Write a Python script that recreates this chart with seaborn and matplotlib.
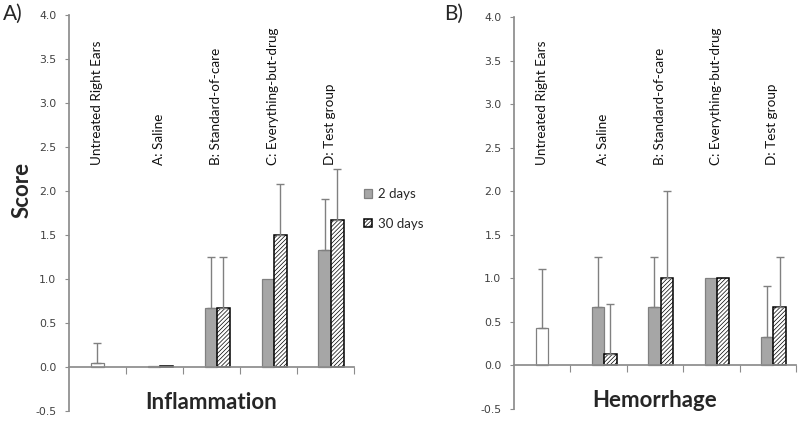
import numpy as np
import pandas as pd
import matplotlib
matplotlib.use("Agg")
import matplotlib.pyplot as plt
import seaborn as sns

groups = ["Untreated Right Ears", "A: Saline", "B: Standard-of-care",
          "C: Everything-but-drug", "D: Test group"]
times = ["2 days", "30 days"]

# inflammation scores (bars) and upper error lengths
infl_untreated = 0.05
infl_untreated_err = 0.22
infl_2d = [0.01, 0.67, 1.00, 1.33]
infl_2d_err = [0, 0.58, 0, 0.58]
infl_30d = [0.01, 0.67, 1.50, 1.67]
infl_30d_err = [0, 0.58, 0.58, 0.58]

# hemorrhage scores
hem_untreated = 0.43
hem_untreated_err = 0.68
hem_2d = [0.67, 0.67, 1.00, 0.33]
hem_2d_err = [0.58, 0.58, 0, 0.58]
hem_30d = [0.13, 1.00, 1.00, 0.67]
hem_30d_err = [0.58, 1.00, 0, 0.58]

sns.set_theme(style="white")
plt.rcParams["font.family"] = ["Lato", "DejaVu Sans"]
plt.rcParams["hatch.linewidth"] = 0.5

GRAY = "#a6a6a6"
EDGE = "#808080"
AXC = "#8c8c8c"


def draw_panel(ax, untreated, untreated_err, v2, e2, v30, e30, title):
    df = pd.DataFrame({
        "group": groups[1:] * 2,
        "time": [times[0]] * 4 + [times[1]] * 4,
        "score": v2 + v30,
    })
    sns.barplot(x=[groups[0]], y=[untreated], order=groups, width=0.22,
                color="white", edgecolor=EDGE, linewidth=0.9,
                errorbar=None, ax=ax)
    sns.barplot(data=df, x="group", y="score", hue="time", order=groups,
                hue_order=times, width=0.44, palette=[GRAY, "white"],
                saturation=1, linewidth=0.9, errorbar=None, legend=False, ax=ax)

    c_un, c2, c30 = ax.containers[0], ax.containers[1], ax.containers[2]
    for bar in c2:
        bar.set_edgecolor(EDGE)
        bar.set_x(bar.get_x() + 0.1)
    for bar in c30:
        bar.set_edgecolor("black")
        bar.set_hatch("////////")
        bar.set_linewidth(1.1)
        bar.set_x(bar.get_x() + 0.1)

    for cont, errs in [(c_un, [untreated_err]), (c2, e2), (c30, e30)]:
        for bar, err in zip(cont, errs):
            if err > 0:
                ax.errorbar(bar.get_x() + bar.get_width() / 2, bar.get_height(),
                            yerr=[[0], [err]], fmt="none", ecolor=EDGE,
                            elinewidth=1, capsize=3, capthick=1)

    for i, g in enumerate(groups):
        ax.text(i + (0.08 if i else 0), 2.3, g, rotation=90, ha="center",
                va="bottom", fontsize=9.7, color="#111111")

    ax.text(2, -0.4, title, ha="center", va="center", fontsize=16,
            fontweight="bold")

    ax.set_xlim(-0.5, 4.5)
    ax.set_ylim(-0.5, 4.0)
    ax.set_yticks(np.arange(-0.5, 4.01, 0.5))
    ax.set_yticklabels([f"{v:.1f}" for v in np.arange(-0.5, 4.01, 0.5)],
                       family="DejaVu Sans")
    ax.set_xticks(np.arange(5) + 0.5)
    ax.set_xticklabels([])
    ax.set_xlabel("")
    ax.set_ylabel("")
    for s in ["top", "right"]:
        ax.spines[s].set_visible(False)
    ax.spines["bottom"].set_position(("data", 0))
    ax.spines["bottom"].set_color(AXC)
    ax.spines["left"].set_color(AXC)
    ax.tick_params(axis="x", direction="out", length=5, width=0.8,
                   color=AXC, bottom=True)
    ax.tick_params(axis="y", direction="out", length=3, width=0.8,
                   color=AXC, left=True, labelsize=7.8, labelcolor="#404040",
                   pad=6)
    return c2, c30


fig = plt.figure(figsize=(8, 4.21), dpi=100)
ax1 = fig.add_axes([0.08625, 0.0238, 0.356, 0.9406])
ax2 = fig.add_axes([0.6425, 0.0285, 0.3525, 0.9311])

c2, c30 = draw_panel(ax1, infl_untreated, infl_untreated_err, infl_2d,
                     infl_2d_err, infl_30d, infl_30d_err, "Inflammation")
draw_panel(ax2, hem_untreated, hem_untreated_err, hem_2d, hem_2d_err,
           hem_30d, hem_30d_err, "Hemorrhage")

fig.text(0.028, 1 - 190 / 421, "Score", rotation=90, ha="center",
         va="center", fontsize=16, fontweight="bold")
fig.text(0.004, 0.99, "A)", ha="left", va="top", fontsize=15)
fig.text(0.555, 0.99, "B)", ha="left", va="top", fontsize=15)

fig.legend([c2[1], c30[1]], times, loc="center left",
           bbox_to_anchor=(352 / 800, 1 - 209 / 421), frameon=False,
           fontsize=9.5, handlelength=0.65, handleheight=0.65,
           labelspacing=1.3, handletextpad=0.4)

fig.savefig("out.png", dpi=100)
